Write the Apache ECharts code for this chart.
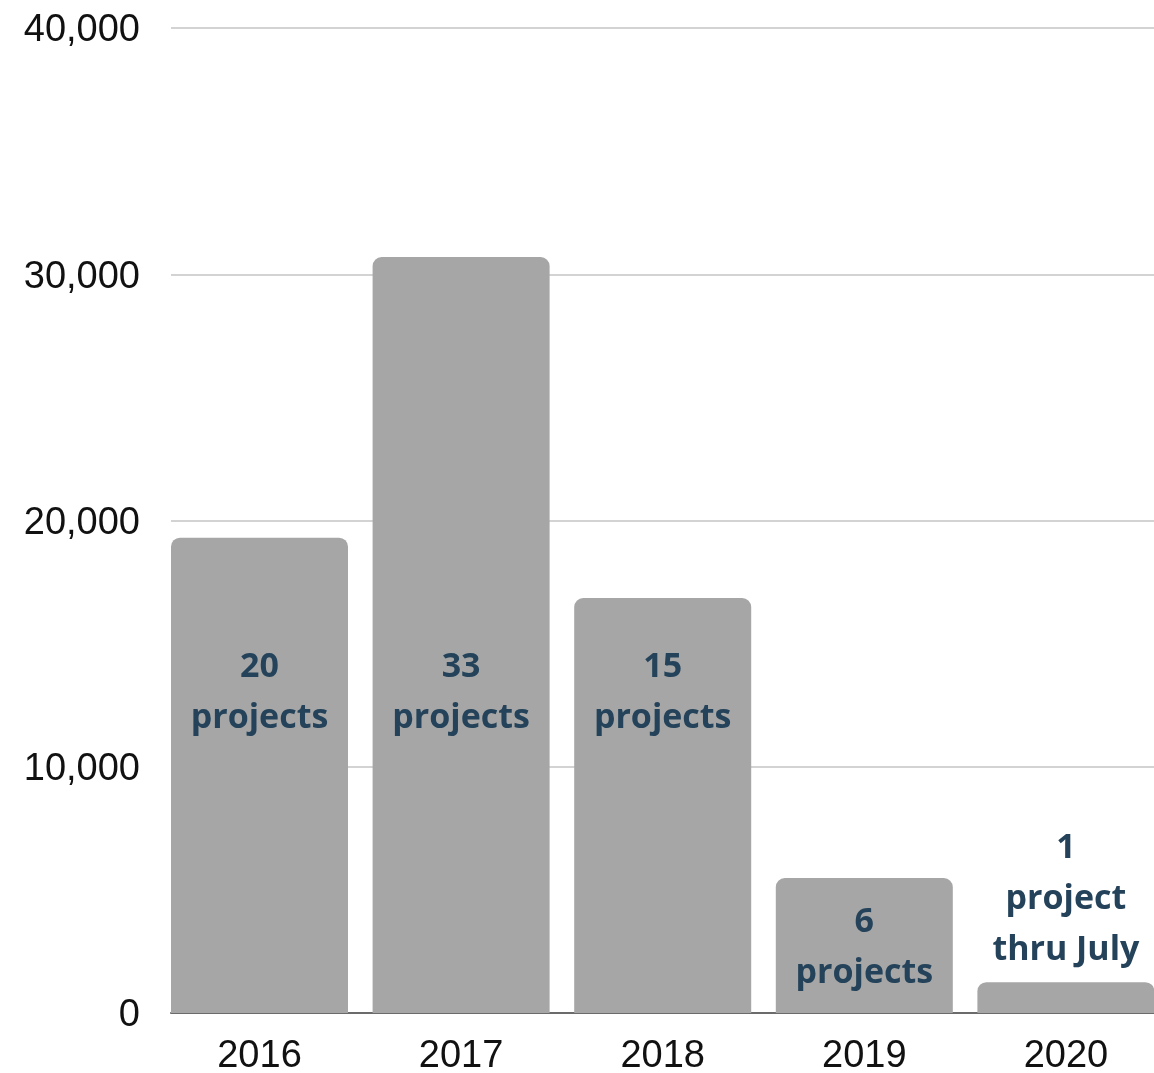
<!DOCTYPE html>
<html>
<head>
<meta charset="utf-8">
<script src="https://cdn.jsdelivr.net/npm/echarts@6/dist/echarts.min.js"></script>
<style>
  html, body { margin: 0; padding: 0; background: #ffffff; }
  #chart { width: 1154px; height: 1073px; }
</style>
</head>
<body>
<div id="chart"></div>
<script>
// Annual totals by year, with the number of projects behind each bar
const years = ['2016', '2017', '2018', '2019', '2020'];
const totals = [19300, 30700, 16850, 5480, 1250];
const projectNotes = ['20\nprojects', '33\nprojects', '15\nprojects', '6\nprojects', '1\nproject\nthru July'];
const yTicks = [0, 10000, 20000, 30000, 40000];

const labelColor = '#24435a';
const labelFont = { fontFamily: 'Open Sans', fontWeight: 'bold', fontSize: 34, lineHeight: 51, color: labelColor };

// Placement of each note: deep inside tall bars, near the base of short ones, above the tiny one
const notePlacement = [
  { position: 'insideBottom', distance: 269 },
  { position: 'insideBottom', distance: 269 },
  { position: 'insideBottom', distance: 269 },
  { position: 'insideBottom', distance: 14 },
  { position: 'top', distance: 6 }
];

const barData = totals.map((v, i) => ({
  value: v,
  label: Object.assign({ show: true, formatter: projectNotes[i] }, labelFont, notePlacement[i])
}));

const chart = echarts.init(document.getElementById('chart'), null, { renderer: 'canvas' });

chart.setOption({
  animation: false,
  grid: [
    // bars: category bands slightly wider than the visible plot
    { left: 158.7, top: 28, width: 1008, bottom: 60, outerBoundsMode: 'none', containLabel: false },
    // value axis, gridlines and baseline
    { left: 171, top: 28, right: 0, bottom: 60, outerBoundsMode: 'none', containLabel: false }
  ],
  xAxis: [
    {
      type: 'category', gridIndex: 0, data: years,
      axisLine: { show: false }, axisTick: { show: false },
      axisLabel: { fontFamily: 'Liberation Sans', fontSize: 38, color: '#111', margin: 25 }
    },
    {
      type: 'category', gridIndex: 1, data: years,
      axisLine: { show: true, lineStyle: { color: '#6b6b6b', width: 2 } },
      axisTick: { show: false }, axisLabel: { show: false }
    }
  ],
  yAxis: [
    {
      type: 'value', gridIndex: 0, min: yTicks[0], max: yTicks[yTicks.length - 1], interval: 10000,
      show: false
    },
    {
      type: 'value', gridIndex: 1, min: yTicks[0], max: yTicks[yTicks.length - 1], interval: 10000,
      axisLine: { show: false }, axisTick: { show: false },
      splitLine: { show: true, lineStyle: { color: '#c4c4c4', width: 1.5 } },
      axisLabel: {
        fontFamily: 'Liberation Sans', fontSize: 38, color: '#111', margin: 31,
        verticalAlign: 'top', lineHeight: 6,
        formatter: v => v.toLocaleString('en-US')
      }
    }
  ],
  series: [
    {
      type: 'bar', xAxisIndex: 0, yAxisIndex: 0,
      data: barData,
      barCategoryGap: '12.2%',
      itemStyle: { color: '#a6a6a6', borderRadius: [9, 9, 0, 0] },
      z: 3
    }
  ]
});
</script>
</body>
</html>
